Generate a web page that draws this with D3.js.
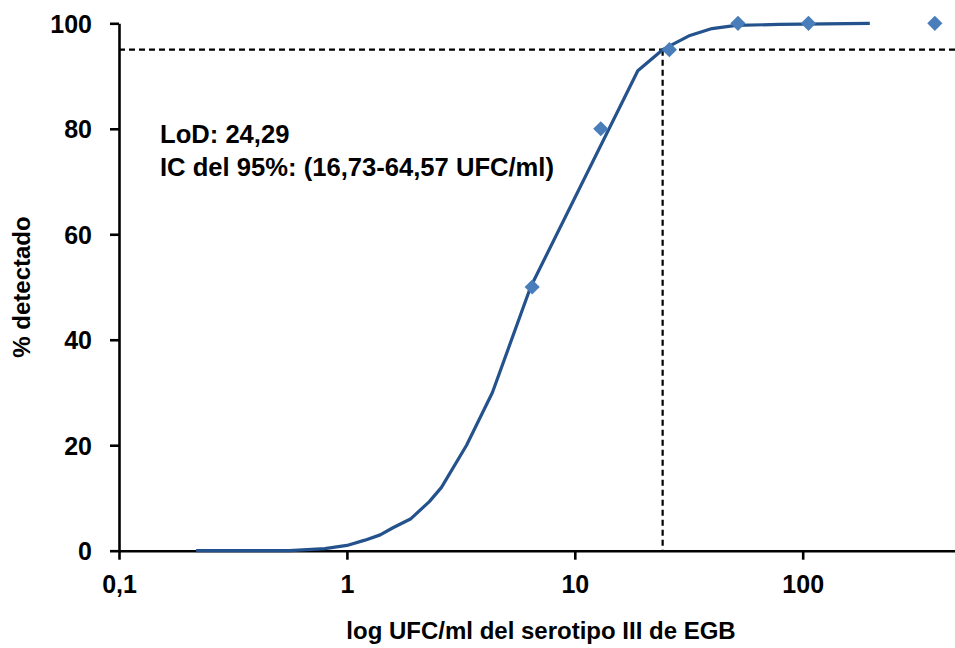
<!DOCTYPE html>
<html>
<head>
<meta charset="utf-8">
<script src="https://cdn.jsdelivr.net/npm/d3@7"></script>
<style>
  body { margin: 0; background: #fff; }
  svg { display: block; font-family: "Liberation Sans", Arial, sans-serif; font-weight: bold; }
</style>
</head>
<body>
<div id="chart"></div>
<script>
// fitted probit curve (UFC/ml, % detected)
const curveConc = [0.218, 0.3, 0.56, 0.8, 1.0, 1.2, 1.4, 1.6, 1.9, 2.3, 2.6, 3.35, 4.35, 6.4, 18.9, 24.29, 32, 40, 51, 79, 197];
const curvePct  = [0, 0, 0, 0.4, 1.0, 2.0, 3.0, 4.4, 6.0, 9.3, 12, 20, 30, 50, 91, 95, 97.7, 99, 99.6, 99.8, 100];

// observed hit rates
const obsConc = [6.5, 13, 26, 52, 106, 380];
const obsPct  = [50, 80, 95, 100, 100, 100];

const xTicks = [0.1, 1, 10, 100];
const xTickLabels = ["0,1", "1", "10", "100"];
const yTicks = [0, 20, 40, 60, 80, 100];

const lod = 24.29;
const lodPct = 95;
const noteLines = ["LoD: 24,29", "IC del 95%: (16,73-64,57 UFC/ml)"];

const width = 955, height = 648;
const plotLeft = 119, plotTop = 23.3, plotBottom = 550.7;
const decade = 227.9;

const svg = d3.select("#chart").append("svg")
  .attr("width", width)
  .attr("height", height);

const x = d3.scaleLog()
  .domain([0.1, 1000])
  .range([plotLeft, plotLeft + 4 * decade]);

const y = d3.scaleLinear()
  .domain([0, 100])
  .range([plotBottom, plotTop]);

// axes
const xAxis = svg.append("g")
  .attr("transform", `translate(0,${plotBottom})`)
  .call(d3.axisBottom(x)
    .tickValues(xTicks)
    .tickFormat((d, i) => xTickLabels[i])
    .tickSize(9)
    .tickSizeOuter(0)
    .tickPadding(16));

const yAxis = svg.append("g")
  .attr("transform", `translate(${plotLeft},0)`)
  .call(d3.axisLeft(y)
    .tickValues(yTicks)
    .tickSize(9)
    .tickSizeOuter(0)
    .tickPadding(18));

[xAxis, yAxis].forEach(g => {
  g.select(".domain").attr("stroke", "#000").attr("stroke-width", 2.6);
  g.selectAll(".tick line").attr("stroke", "#000").attr("stroke-width", 2.6);
  g.selectAll(".tick text")
    .attr("fill", "#000")
    .style("font-size", "25px")
    .style("font-family", "'Liberation Sans', Arial, sans-serif")
    .style("font-weight", "bold");
});
yAxis.selectAll(".tick text").attr("dy", "0.36em");

// 95% and LoD reference lines
svg.append("line")
  .attr("x1", plotLeft).attr("x2", width)
  .attr("y1", y(lodPct)).attr("y2", y(lodPct))
  .attr("stroke", "#000").attr("stroke-width", 2.2)
  .attr("stroke-dasharray", "6,4");

svg.append("line")
  .attr("x1", x(lod)).attr("x2", x(lod))
  .attr("y1", y(lodPct)).attr("y2", y(0))
  .attr("stroke", "#000").attr("stroke-width", 2.2)
  .attr("stroke-dasharray", "6,4");

// curve
const line = d3.line()
  .x((d, i) => x(curveConc[i]))
  .y(d => y(d));

svg.append("path")
  .datum(curvePct)
  .attr("fill", "none")
  .attr("stroke", "#23528c")
  .attr("stroke-width", 3.2)
  .attr("stroke-linejoin", "round")
  .attr("d", line);

// observed points
const diamond = d3.symbol().type(d3.symbolSquare).size(115);
svg.append("g")
  .selectAll("path")
  .data(obsPct)
  .join("path")
  .attr("d", diamond)
  .attr("fill", "#4a7ebb")
  .attr("transform", (d, i) => `translate(${x(obsConc[i])},${y(d)}) rotate(45)`);

// annotation
svg.append("g")
  .selectAll("text")
  .data(noteLines)
  .join("text")
  .attr("x", 160)
  .attr("y", (d, i) => 143 + i * 33)
  .style("font-size", "25.6px")
  .text(d => d);

// axis titles
svg.append("text")
  .attr("x", (x(0.1) + 955) / 2 + 4)
  .attr("y", 639)
  .attr("text-anchor", "middle")
  .style("font-size", "24px")
  .text("log UFC/ml del serotipo III de EGB");

svg.append("text")
  .attr("transform", `translate(30,${(plotTop + plotBottom) / 2}) rotate(-90)`)
  .attr("text-anchor", "middle")
  .style("font-size", "24px")
  .text("% detectado");
</script>
</body>
</html>
